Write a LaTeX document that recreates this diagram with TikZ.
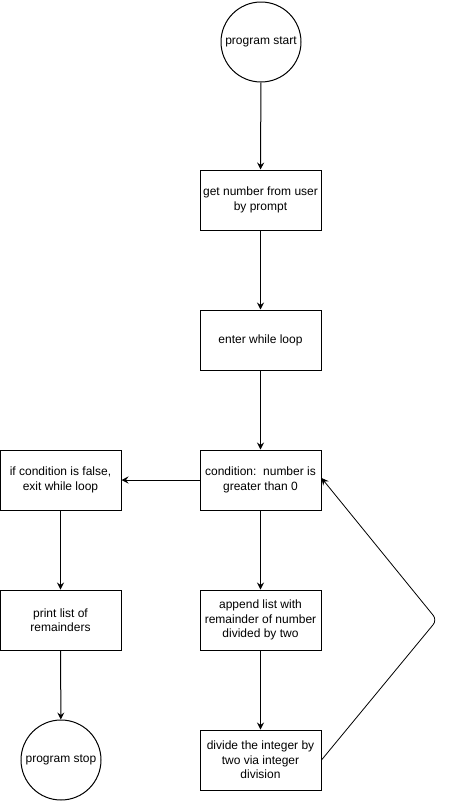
\documentclass[tikz,border=0pt]{standalone}
\usepackage{fontspec}
\setmainfont{Liberation Sans}
\usetikzlibrary{arrows.meta}
\begin{document}
\begin{tikzpicture}[x=1pt,y=-1pt,
  box/.style={draw,line width=1pt,minimum width=121pt,minimum height=60pt,align=center,inner sep=0pt,font=\fontsize{12}{14.5}\selectfont},
  term/.style={draw,circle,line width=1pt,minimum size=80pt,inner sep=0pt,align=center,font=\fontsize{12}{14.5}\selectfont},
  arr/.style={line width=1pt,-{Stealth[length=7pt,width=7pt,inset=2.5pt]}}]
\useasboundingbox[fill=white] (0,0) rectangle (449,801);
\node[term] (start) at (261,42) {program start};
\node[box] (get) at (260.5,200) {get number from user\\by prompt};
\node[box] (enter) at (260.5,340) {enter while loop};
\node[box] (cond) at (260.5,480) {condition:\ \ number is\\greater than 0};
\node[box] (exit) at (60.5,480) {if condition is false,\\exit while loop};
\node[box] (print) at (60.5,620) {print list of\\remainders};
\node[term] (stop) at (61,760) {program stop};
\node[box] (append) at (260.5,620) {append list with\\remainder of number\\divided by two};
\node[box] (divide) at (260.5,760) {divide the integer by\\two via integer\\division};
\coordinate (corner) at (437,620);
\draw[arr] (start) -- (get);
\draw[arr] (get) -- (enter);
\draw[arr] (enter) -- (cond);
\draw[arr] (cond) -- (exit);
\draw[arr] (exit) -- (print);
\draw[arr] (print) -- (stop);
\draw[arr] (cond) -- (append);
\draw[arr] (append) -- (divide);
\draw[arr,line width=0.8pt,rounded corners=6pt] (divide.east) -- (corner) -- ([yshift=2pt]cond.east);
\end{tikzpicture}
\end{document}
